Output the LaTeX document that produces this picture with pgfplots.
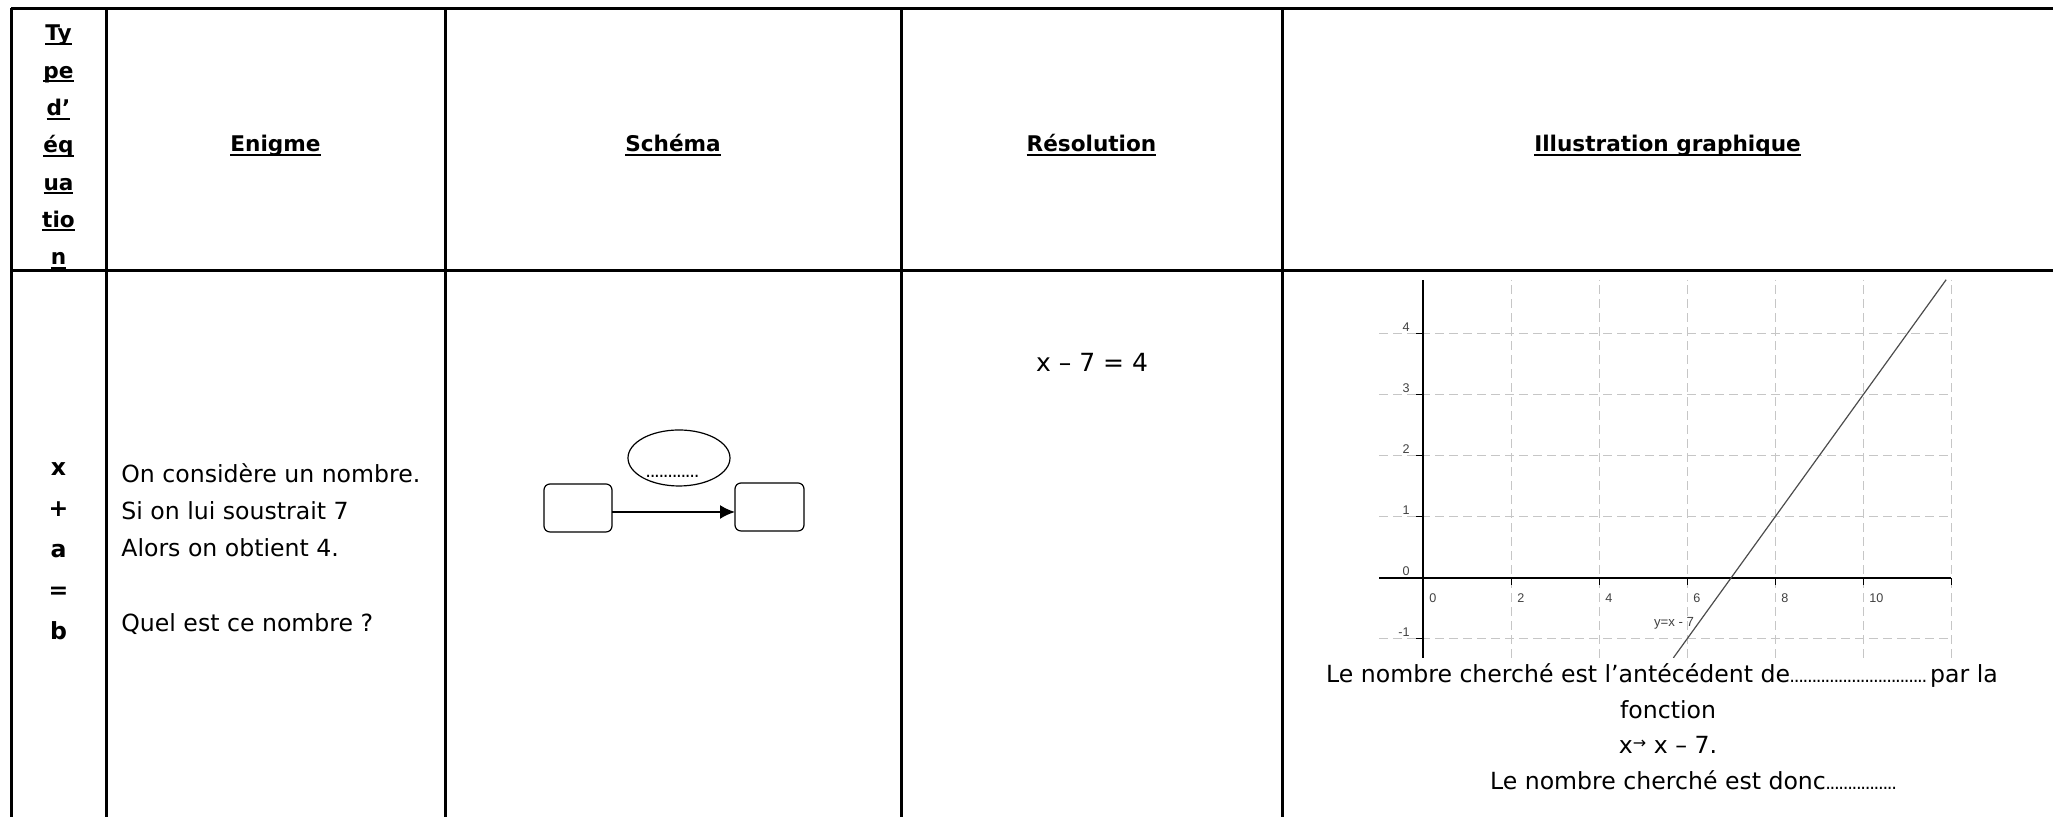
\documentclass[border=0pt]{standalone}
\usepackage{pgfplots}
\pgfplotsset{compat=1.18}
\usepackage{fontspec}
\setmainfont{DejaVu Sans}
\newfontfamily\tickfont{Liberation Sans}
\usetikzlibrary{arrows.meta}

% underline close to the baseline, as in the sheet
\newcommand\ul[1]{\setbox0\hbox{#1}\rlap{\vrule height -1pt depth 2pt width \wd0}\box0}
% run of small dots
\newcommand\dts[1]{\hbox to #1{\fontsize{9}{9}\selectfont\leaders\hbox to 2.2pt{\hss.\hss}\hfill}}

\tikzset{
  hd/.style={font=\bfseries\fontsize{10.8}{12}\selectfont, anchor=base, inner sep=0pt},
  bd/.style={font=\fontsize{11.8}{14}\selectfont, inner sep=0pt},
}

\begin{document}
\begin{tikzpicture}
\path[use as bounding box] (0pt,0pt) rectangle (1026.5pt,408.5pt);
% table, in pixels of the sheet (y down)
\begin{scope}[shift={(0pt,408.5pt)}, x=0.5pt, y=-0.5pt]
  \draw[line width=1.5pt] (11,9) -- (2053,9);
  \draw[line width=1.5pt] (11,271) -- (2053,271);
  \foreach \xx in {11,106,445,901,1282}
    \draw[line width=1.5pt] (\xx,8.25) -- (\xx,817);

  % header row
  \foreach \t [count=\i from 0] in {Ty,pe,d’,éq,ua,tio,n}
    \node[hd] at (58.5,{41+37.3*\i}) {\ul{\t}};
  \node[hd] at (275.5,152) {\ul{Enigme}};
  \node[hd] at (673,152) {\ul{Schéma}};
  \node[hd] at (1091.5,152) {\ul{Résolution}};
  \node[hd] at (1667.5,152) {\ul{Illustration graphique}};

  % type column
  \node[bd, font=\bfseries\fontsize{11.8}{14}\selectfont, anchor=base] at (58.5,476) {x};
  \node[bd, font=\bfseries\fontsize{11.8}{14}\selectfont, anchor=base] at (58.5,516.8) {+};
  \node[bd, font=\bfseries\fontsize{11.8}{14}\selectfont, anchor=base] at (58.5,557.6) {a};
  \node[bd, font=\bfseries\fontsize{11.8}{14}\selectfont, anchor=base] at (58.5,598.4) {=};
  \node[bd, font=\bfseries\fontsize{11.8}{14}\selectfont, anchor=base] at (58.5,639.2) {b};

  % enigme
  \node[bd, anchor=base west] at (121,483) {On considère un nombre.};
  \node[bd, anchor=base west] at (121,520) {Si on lui soustrait 7};
  \node[bd, anchor=base west] at (121,557) {Alors on obtient 4.};
  \node[bd, anchor=base west] at (121,632) {Quel est ce nombre ?};

  % schema
  \draw[line width=0.6pt] (679,458) ellipse [x radius=51, y radius=28];
  \node[anchor=base, inner sep=0pt] at (673,478) {\dts{27pt}};
  \draw[line width=0.6pt, rounded corners=3pt] (544,484) rectangle (612,532);
  \draw[line width=0.6pt, rounded corners=3pt] (735,483) rectangle (804,531);
  \draw[line width=0.9pt, -{Latex[length=7.5pt,width=7pt]}] (612,512) -- (735,512);

  % resolution
  \node[anchor=base, inner sep=0pt, font=\fontsize{12.5}{14}\selectfont] at (1092,372) {x – 7 = 4};

  % text under the graph
  \node[bd, anchor=base] at (1662,683) {Le nombre cherché est l’antécédent de\dts{70pt}par la};
  \node[bd, anchor=base] at (1668,718.5) {fonction};
  \node[bd, anchor=base] at (1668,754) {x{\raisebox{2.5pt}{\fontsize{8}{8}\selectfont →}} x – 7.};
  \node[bd, anchor=base] at (1694,789.5) {Le nombre cherché est donc\dts{36pt}};
\end{scope}

\begin{axis}[
  at={(711.5pt,119.5pt)}, anchor=origin,
  x=22pt, y=30.5pt,
  xmin=-1, xmax=12, ymin=-1.31, ymax=4.89,
  axis lines=middle,
  axis line style={-, line width=0.8pt, black},
  xtick={0,2,...,12}, xticklabels={0,2,4,6,8,10,{}},
  ytick={-1,0,...,4}, yticklabels={-1,0,1,2,3,4},
  hide obscured x ticks=false, hide obscured y ticks=false,
  tick align=outside, major tick length=3.5pt,
  tick style={black, line width=0.5pt},
  grid=major,
  grid style={dash pattern=on 4.5pt off 2.5pt, gray!45, line width=0.5pt},
  /pgf/number format/assume math mode=true,
  xticklabel style={anchor=north west, inner sep=0pt, xshift=3pt, yshift=-4pt,
    font=\tickfont\fontsize{6.3}{7}\selectfont, text=black!75},
  yticklabel style={anchor=south east, inner sep=0pt, xshift=-3pt, yshift=0.8pt,
    font=\tickfont\fontsize{6.3}{7}\selectfont, text=black!75},
]
  \addplot[black!70, line width=0.6pt] coordinates {(5.69,-1.31) (11.89,4.89)};
  \node[anchor=east, inner sep=0pt, font=\tickfont\fontsize{6.6}{8}\selectfont, text=black!75]
    at (axis cs:6.17,-0.74) {y=x - 7};
\end{axis}
\end{tikzpicture}
\end{document}
